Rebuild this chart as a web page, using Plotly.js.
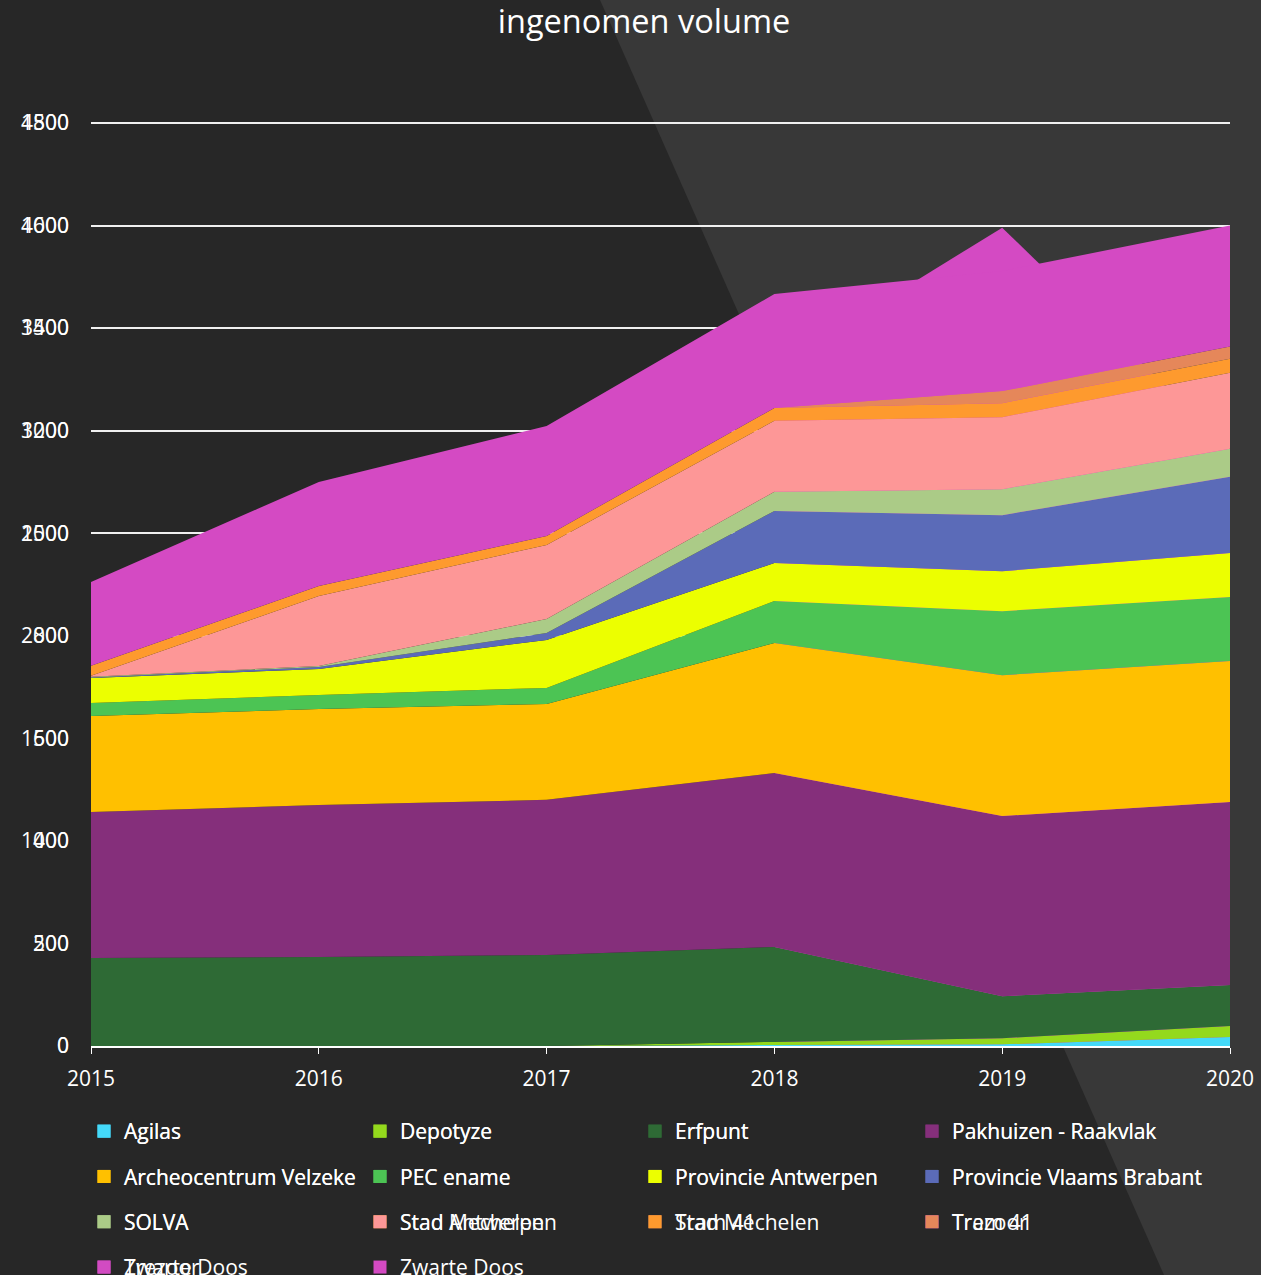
<!DOCTYPE html>
<html><head><meta charset="utf-8">
<script src="https://cdn.plot.ly/plotly-3.0.1.min.js"></script>
<style>html,body{margin:0;padding:0;background:#272727;}#chart{width:1261px;height:1275px;}</style>
</head><body><div id="chart"></div>
<script>
// ---- data ----
const years = [2015, 2016, 2017, 2018, 2019, 2020];
const seriesNames = ["Agilas", "Depotyze", "Erfpunt", "Pakhuizen - Raakvlak",
  "Archeocentrum Velzeke", "PEC ename", "Provincie Antwerpen", "Provincie Vlaams Brabant",
  "SOLVA", "Stad Antwerpen", "Stad Mechelen", "Tram 41", "Trezoor", "Zwarte Doos"];
const seriesColors = ["#44d9f9", "#94d91d", "#2e6a35", "#852f7b",
  "#ffc000", "#4cc454", "#ecff00", "#5b6bb8",
  "#abcb87", "#fd9797", "#fe9a2e", "#e5875a", "#d24bc2", "#d44ac3"];
const agilas            = [0, 0, 0, 5, 8, 44];
const depotyze          = [0, 0, 0, 15, 30, 54];
const erfpunt           = [429, 434, 444, 463, 205, 200];
const pakhuizen         = [712, 741, 756, 848, 878, 892];
const archeocentrum     = [468, 468, 468, 634, 687, 687];
const pecEname          = [63, 68, 78, 205, 312, 312];
const provAntwerpen     = [122, 127, 234, 185, 195, 215];
const provVlaamsBrabant = [3, 10, 34, 254, 273, 371];
const solva             = [3, 5, 68, 93, 127, 137];
const stadAntwerpen     = [5, 341, 361, 346, 351, 371];
const stadMechelen      = [49, 49, 44, 63, 68, 68];
const tram41            = [0, 0, 0, 0, 59, 59];
const trezoor           = [0, 0, 0, 0, 0, 0];
const zwarteDoos        = [408, 507, 536, 555, 585, 590];
const seriesValues = [agilas, depotyze, erfpunt, pakhuizen, archeocentrum, pecEname,
  provAntwerpen, provVlaamsBrabant, solva, stadAntwerpen, stadMechelen, tram41, trezoor, zwarteDoos];

// second (overlaid) chart: only its top is visible
const overlayYears = [2018, 2019, 2020];
const overlayZwarteDoos = [1322, 1596, 1164];
const overlayNames = ["Agilas", "Depotyze", "Erfpunt", "Pakhuizen - Raakvlak",
  "Archeocentrum Velzeke", "PEC ename", "Provincie Antwerpen", "Provincie Vlaams Brabant",
  "SOLVA", "Stad Mechelen", "Tram 41", "Trezoor", "Zwarte Doos"];
const overlayColors = ["#44d9f9", "#94d91d", "#2e6a35", "#852f7b",
  "#ffc000", "#4cc454", "#ecff00", "#5b6bb8",
  "#abcb87", "#fe9a2e", "#e5875a", "#d44ac3", "#d44ac3"];

const yearLabels = ["2015", "2016", "2017", "2018", "2019", "2020"];
const axisA = [0, 1802, 200];
const axisB = [0, 4505, 500];

// ---- build ----
const FONT = "Open Sans, Noto Sans, sans-serif";
const W = 1261, H = 1275;
const traces = [];

traces.push({
  type: "scatter", x: overlayYears, y: overlayZwarteDoos, xaxis: "x", yaxis: "y",
  mode: "none", fill: "tozeroy", fillcolor: "#d44ac3", showlegend: false, hoverinfo: "skip"
});

seriesNames.forEach((n, i) => {
  traces.push({
    type: "scatter", x: years, y: seriesValues[i], name: n, xaxis: "x", yaxis: "y2",
    stackgroup: "main", mode: "none", fillcolor: seriesColors[i], showlegend: false
  });
});

const layout = {
  width: W, height: H,
  paper_bgcolor: "#272727", plot_bgcolor: "rgba(0,0,0,0)",
  margin: {l: 91, r: 31, t: 122, b: 229, pad: 0, autoexpand: false},
  font: {family: FONT, color: "#ffffff"},
  title: {text: "ingenomen volume", x: 644 / W, xref: "container", xanchor: "center",
    y: 1 - 22 / H, yref: "container", yanchor: "middle",
    font: {family: FONT, size: 32.5, color: "#ffffff"}},
  xaxis: {range: [2015, 2020], tickvals: years, ticktext: yearLabels, showgrid: false,
    zeroline: false, showline: true, linecolor: "#ffffff", linewidth: 2,
    ticks: "outside", ticklen: 6, tickwidth: 1, tickcolor: "#ffffff", tickangle: 0,
    tickfont: {family: FONT, size: 21, color: "#ffffff"}, ticklabelstandoff: 7, fixedrange: true},
  yaxis: {range: [axisA[0], axisA[1]], tick0: 0, dtick: axisA[2], showgrid: true,
    gridcolor: "#f0f0f0", gridwidth: 2, zeroline: false, showline: false, ticks: "",
    tickfont: {family: FONT, size: 21, color: "#ffffff"}, ticklabelstandoff: 21, fixedrange: true},
  yaxis2: {range: [axisB[0], axisB[1]], tick0: 0, dtick: axisB[2], overlaying: "y", side: "left",
    showgrid: false, zeroline: false, showline: false, ticks: "",
    tickfont: {family: FONT, size: 21, color: "#ffffff"}, ticklabelstandoff: 21, fixedrange: true},
  shapes: [{
    type: "path", xref: "paper", yref: "paper", layer: "below", line: {width: 0},
    fillcolor: "#383838",
    path: "M" + ((600 - 91) / 1139) + "," + ((1046 - 0) / 924) +
      " L" + ((1164 - 91) / 1139) + "," + ((1046 - 1275) / 924) +
      " L" + ((1300 - 91) / 1139) + "," + ((1046 - 1275) / 924) +
      " L" + ((1300 - 91) / 1139) + "," + ((1046 - 0) / 924) + " Z"
  }],
  showlegend: true
};

// legend laid out as 4 columns, one vertical legend per column
const colX = [84, 360, 635, 912];
const legendTop = 1111;
let legendCount = 0;
function addLegendSet(setId, names, colors) {
  for (let c = 0; c < 4; c++) {
    legendCount++;
    const key = legendCount === 1 ? "legend" : "legend" + legendCount;
    layout[key] = {
      orientation: "v", xref: "container", yref: "container",
      x: colX[c] / W, xanchor: "left", y: 1 - legendTop / H, yanchor: "top",
      bgcolor: "rgba(0,0,0,0)", borderwidth: 0, traceorder: "grouped", tracegroupgap: 15,
      font: {family: FONT, size: 21, color: "#ffffff"}
    };
    for (let i = c; i < names.length; i += 4) {
      traces.push({
        type: "scatter", x: [null], y: [null], xaxis: "x", yaxis: "y", mode: "markers",
        name: names[i], legend: key, legendgroup: setId + i, showlegend: true, hoverinfo: "skip",
        marker: {symbol: "square", size: 13, color: colors[i], line: {width: 0}}
      });
    }
  }
}
// the overlaid chart's legend first, the main chart's legend drawn on top
addLegendSet("b", overlayNames, overlayColors);
addLegendSet("a", seriesNames, seriesColors);

Plotly.newPlot("chart", traces, layout, {displayModeBar: false, staticPlot: true});
</script></body></html>
